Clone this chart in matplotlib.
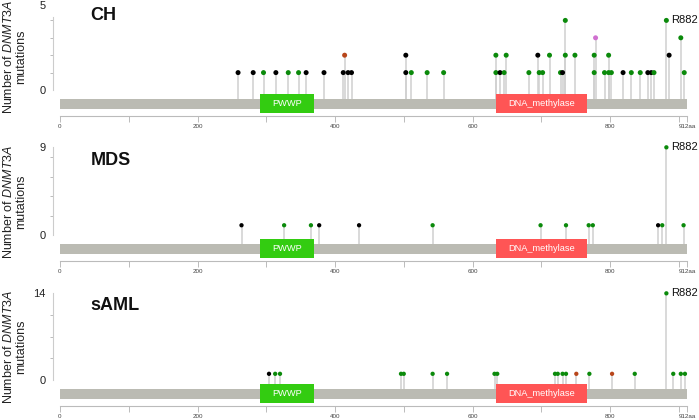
import matplotlib
matplotlib.use("Agg")
import matplotlib.pyplot as plt
from matplotlib.patches import Rectangle

plt.rcParams['font.family'] = ['Liberation Sans', 'DejaVu Sans']
plt.rcParams['mathtext.fontset'] = 'custom'
plt.rcParams['mathtext.rm'] = 'Liberation Sans'
plt.rcParams['mathtext.it'] = 'Liberation Sans:italic'

# ---------------- data ----------------
protein_length = 912
domain_names = ["PWWP", "DNA_methylase"]
domain_starts = [291, 634]
domain_ends = [369, 767]

ch_pos = [259, 281, 296, 314, 332, 347, 358, 384, 412, 414, 419, 424, 503, 503, 511, 534,
          558, 634, 634, 640, 646, 649, 682, 695, 697, 702, 712, 728, 731, 735, 735, 749,
          777, 777, 779, 792, 798, 798, 802, 819, 831, 844, 855, 860, 864, 882, 886, 903, 908]
ch_count = [1, 1, 1, 1, 1, 1, 1, 1, 1, 2, 1, 1, 1, 2, 1, 1,
            1, 1, 2, 1, 1, 2, 1, 2, 1, 1, 2, 1, 1, 2, 4, 2,
            1, 2, 3, 1, 2, 1, 1, 1, 1, 1, 1, 1, 1, 4, 2, 3, 1]
ch_type = ["T", "T", "M", "T", "M", "M", "T", "T", "T", "I", "T", "T", "T", "T", "M", "M",
           "M", "M", "M", "T", "M", "M", "M", "T", "M", "M", "M", "M", "T", "M", "M", "M",
           "M", "M", "O", "M", "M", "M", "M", "T", "M", "M", "T", "T", "M", "M", "T", "M", "M"]

mds_pos = [264, 326, 365, 377, 435, 542, 699, 736, 769, 775, 870, 876, 882, 907]
mds_count = [1, 1, 1, 1, 1, 1, 1, 1, 1, 1, 1, 1, 9, 1]
mds_type = ["T", "M", "M", "T", "T", "M", "M", "M", "M", "M", "T", "M", "M", "M"]

saml_pos = [304, 313, 320, 496, 500, 542, 563, 632, 636, 720, 724, 731, 736, 751, 770,
            803, 836, 882, 892, 903, 909]
saml_count = [1, 1, 1, 1, 1, 1, 1, 1, 1, 1, 1, 1, 1, 1, 1, 1, 1, 14, 1, 1, 1]
saml_type = ["T", "M", "M", "M", "M", "M", "M", "M", "M", "M", "M", "M", "M", "I", "M",
             "I", "M", "M", "M", "M", "M"]

panel_titles = ["CH", "MDS", "sAML"]
axis_max_labels = [5, 9, 14]
hotspot_label = "R882"
hotspot_pos = 882

type_colors = {"M": "#0b8a0b", "T": "#000000", "I": "#b8461b", "O": "#d070d0"}
domain_colors = ["#33cc11", "#ff5555"]

# ---------------- layout (pixel based) ----------------
W, H = 699, 420
fig = plt.figure(figsize=(W / 100, H / 100), dpi=100)

px_per_unit = [17.4, 9.74, 6.19]
spine_tops = [4.2, 9, 14]
minor_ticks = [[0, 1, 2, 3, 4], [0, 2, 4, 6, 8], [0, 3.5, 7, 10.5]]
label_at = [4.9, 9, 14]
marker_sizes = [3.6, 3.1, 3.1]

panels = [(ch_pos, ch_count, ch_type), (mds_pos, mds_count, mds_type),
          (saml_pos, saml_count, saml_type)]

x_left_px, x_zero_px, x_end_px = 52.5, 60.0, 687.0
aa_scale = (x_end_px - x_zero_px) / protein_length
xlim_left = -(x_zero_px - x_left_px) / aa_scale

above, below = 90.0, 26.0
for k, (pos, cnt, typ) in enumerate(panels):
    zero_px = 90 + 145 * k
    bot_px = zero_px + below
    ax = fig.add_axes([x_left_px / W, 1 - bot_px / H, (x_end_px - x_left_px) / W, (above + below) / H])
    u = px_per_unit[k]
    ax.set_xlim(xlim_left, protein_length)
    ax.set_ylim(-below / u, above / u)
    ax.patch.set_alpha(0)

    tr = ax.get_xaxis_transform()

    def frac(d):
        return (below - d) / (above + below)

    ax.add_patch(Rectangle((0, frac(19.0)), protein_length, frac(8.5) - frac(19.0),
                           transform=tr, facecolor="#bbbbb3", edgecolor="none", zorder=1))
    for name, s, e, c in zip(domain_names, domain_starts, domain_ends, domain_colors):
        ax.add_patch(Rectangle((s, frac(22.7)), e - s, frac(4.3) - frac(22.7),
                               transform=tr, facecolor=c, edgecolor="none", zorder=2))
        ax.text((s + e) / 2, (frac(22.7) + frac(4.3)) / 2, name, transform=tr,
                ha="center", va="center", color="white", fontsize=6.7, zorder=3)

    stem_base = -8.5 / u
    ax.vlines(pos, stem_base, cnt, colors="#d0d0d0", linewidth=1.1, zorder=0.5)
    order = sorted(range(len(pos)), key=lambda i: cnt[i])
    ax.scatter([pos[i] for i in order], [cnt[i] for i in order],
               s=marker_sizes[k] ** 2, c=[type_colors[typ[i]] for i in order],
               edgecolors="none", zorder=4, clip_on=False)

    hs = [i for i in range(len(pos)) if pos[i] == hotspot_pos]
    hi = max(hs, key=lambda i: cnt[i])
    ax.annotate(hotspot_label, (pos[hi], cnt[hi]), xytext=(3.5, 0), textcoords="offset points",
                ha="left", va="center", fontsize=8, color="#111111", annotation_clip=False)

    ax.text(44.5, frac(-70), panel_titles[k], transform=tr, fontsize=13, fontweight="bold",
            ha="left", va="baseline", color="#111111")

    for sp in ["top", "right"]:
        ax.spines[sp].set_visible(False)
    ax.spines["left"].set_bounds(0, spine_tops[k])
    ax.spines["left"].set_color("#cccccc")
    ax.spines["left"].set_linewidth(0.8)
    ax.spines["bottom"].set_bounds(0, protein_length)
    ax.spines["bottom"].set_color("#bbbbbb")
    ax.spines["bottom"].set_linewidth(0.8)

    ax.set_yticks([0, label_at[k]])
    ax.set_yticklabels(["0", str(axis_max_labels[k])])
    ax.set_yticks(minor_ticks[k], minor=True)
    ax.tick_params(axis="y", which="major", length=0, pad=5.2, labelsize=8, labelcolor="#222222")
    ax.tick_params(axis="y", which="minor", length=2.5, width=0.7, color="#bbbbbb")

    xt = list(range(0, 901, 100)) + [protein_length]
    ax.set_xticks(xt)
    ax.set_xticklabels([str(v) if v % 200 == 0 else "" for v in range(0, 901, 100)] + ["912aa"])
    ax.tick_params(axis="x", which="major", length=4.5, width=0.7, color="#bbbbbb",
                   pad=1.5, labelsize=4.5, labelcolor="#444444")

    fig.text(14.5 / W, 1 - (zero_px - 33) / H, "Number of $\\it{DNMT3A}$\nmutations",
             rotation=90, ha="center", va="center", multialignment="center",
             fontsize=9, color="#222222", linespacing=1.05)

fig.savefig("out.png", dpi=100)
